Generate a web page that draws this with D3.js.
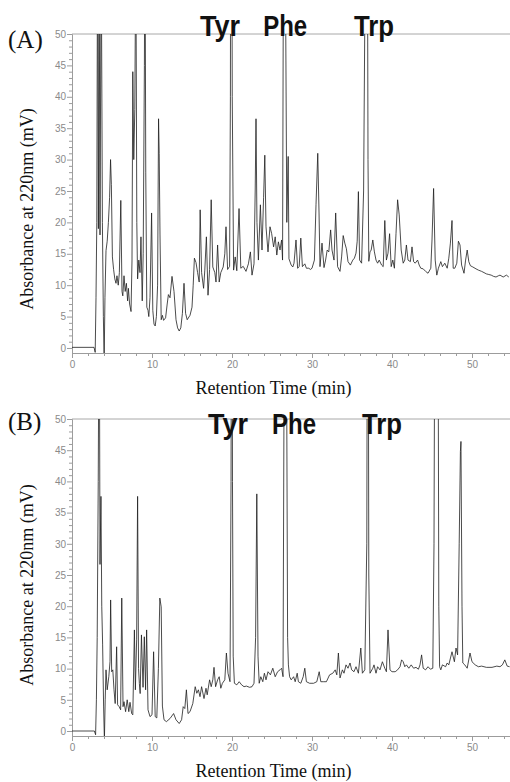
<!DOCTYPE html>
<html>
<head>
<meta charset="utf-8">
<script src="https://cdnjs.cloudflare.com/ajax/libs/d3/7.8.5/d3.min.js"></script>
<style>
  body { margin: 0; background: #fff; }
  svg { display: block; }
</style>
</head>
<body>
<svg></svg>
<script>

// chromatogram (A): [retention time (min), absorbance (mV)]
var traceA = [
  [0, 0.1], [2.75, 0.1], [2.9, -0.7], [3.0, 8], [3.1, 20], [3.2, 70], [3.3, 19], [3.4, 60],
  [3.5, 18], [3.65, 65], [3.8, 20], [3.92, 5], [4.02, -2], [4.12, 8], [4.25, 15.5], [4.4, 17],
  [4.55, 20], [4.7, 24], [4.82, 30], [4.92, 26], [5.05, 14.5], [5.2, 12.5], [5.35, 11], [5.5, 10.3],
  [5.62, 11.5], [5.78, 10], [5.92, 12], [6.1, 23.5], [6.25, 9], [6.35, 8.3], [6.5, 11.5], [6.65, 9],
  [6.8, 10.3], [6.95, 7.5], [7.05, 9.5], [7.2, 7], [7.38, 5.8], [7.5, 14], [7.6, 44], [7.72, 30],
  [7.85, 38], [7.98, 65], [8.1, 20], [8.2, 11], [8.35, 14], [8.5, 12], [8.62, 17.7], [8.78, 7.5],
  [8.9, 15], [9.05, 45], [9.12, 70], [9.22, 28], [9.35, 6.5], [9.5, 6], [9.6, 5], [9.75, 8],
  [9.95, 21.5], [10.1, 6], [10.25, 3.8], [10.4, 3.5], [10.55, 5], [10.7, 10], [10.82, 36.5], [10.9, 31],
  [11.0, 18], [11.15, 4.5], [11.3, 5.2], [11.45, 4.4], [11.7, 4.8], [11.9, 7], [12.05, 8.5], [12.25, 8],
  [12.5, 11.4], [12.75, 9], [13.0, 4.5], [13.2, 3.2], [13.4, 2.7], [13.6, 3.2], [13.8, 5.5], [14.0, 10.3],
  [14.2, 5.5], [14.4, 4.5], [14.75, 5.2], [15.0, 6.5], [15.15, 10], [15.3, 14.3], [15.5, 13.6], [15.7, 12],
  [15.9, 10.5], [16.02, 22], [16.2, 12], [16.45, 9.5], [16.6, 12.4], [16.8, 17.7], [17.0, 8.4], [17.2, 12.5],
  [17.4, 23.6], [17.6, 12.9], [17.85, 12], [18.0, 10.5], [18.2, 16.4], [18.4, 10.5], [18.6, 12], [18.9, 12.9],
  [19.1, 15], [19.25, 19.3], [19.45, 12.5], [19.7, 13], [19.8, 40], [19.87, 120], [19.95, 90], [20.03, 40],
  [20.2, 12.4], [20.4, 14.5], [20.6, 12.3], [20.88, 22.2], [21.1, 12.7], [21.4, 13], [21.75, 12.2], [22.05, 13.4],
  [22.3, 15.3], [22.5, 11.6], [22.75, 13.4], [22.9, 25], [23.0, 36.5], [23.12, 20], [23.3, 14], [23.55, 22.8],
  [23.75, 15.6], [23.95, 24], [24.1, 30.7], [24.25, 19.3], [24.5, 15.3], [24.75, 19.3], [24.96, 18.2], [25.2, 16.1],
  [25.4, 17.7], [25.6, 14.8], [25.8, 16.9], [26.0, 15.6], [26.2, 17.2], [26.32, 14], [26.42, 60], [26.55, 110],
  [26.68, 60], [26.85, 20], [27.02, 30.5], [27.12, 14.2], [27.4, 13.2], [27.6, 12.9], [27.75, 13.5], [28.0, 17.2],
  [28.2, 12.7], [28.4, 12.95], [28.6, 17.5], [28.8, 12.95], [29.1, 13.4], [29.3, 12.7], [29.6, 12.7], [29.8, 12.5],
  [30.0, 12.7], [30.3, 14], [30.5, 22.8], [30.72, 31], [30.88, 21.5], [31.0, 12.95], [31.25, 16.7], [31.5, 12.8],
  [31.7, 14], [31.9, 15.6], [32.1, 15.3], [32.33, 18.8], [32.5, 15.6], [32.75, 14], [32.96, 21.5], [33.2, 12.95],
  [33.5, 12.2], [33.7, 14.5], [33.9, 17.9], [34.1, 16.7], [34.3, 15.8], [34.5, 13.75], [34.8, 13.2], [35.1, 14],
  [35.3, 14.3], [35.5, 15.1], [35.65, 17], [35.8, 24.9], [35.95, 14], [36.2, 13.5], [36.45, 25], [36.7, 70],
  [36.85, 110], [37.0, 30], [37.1, 13.8], [37.25, 15.3], [37.4, 15.6], [37.6, 17.2], [37.8, 15.3], [38.0, 14],
  [38.2, 13.5], [38.4, 14], [38.7, 13.2], [38.9, 12.95], [39.1, 20.3], [39.3, 14], [39.5, 15.1], [39.7, 18.2],
  [39.9, 12.95], [40.1, 14], [40.3, 12.7], [40.5, 18.2], [40.7, 23.6], [40.9, 21.2], [41.15, 15.6], [41.4, 13.5],
  [41.6, 14], [41.8, 16.4], [42.0, 14], [42.3, 13.75], [42.5, 16.1], [42.7, 13.75], [42.9, 13.5], [43.2, 14],
  [43.4, 13.2], [43.6, 12.7], [43.9, 12.6], [44.2, 12.2], [44.5, 11.9], [44.85, 12.7], [45.0, 17.2], [45.2, 25.4],
  [45.4, 14], [45.6, 11.6], [45.8, 12.7], [46.1, 13.75], [46.3, 12.95], [46.6, 13.5], [46.9, 12.7], [47.1, 14.3],
  [47.3, 16.7], [47.5, 20.3], [47.65, 12.7], [47.85, 12.7], [48.1, 13.5], [48.3, 17.0], [48.5, 16.4], [48.7, 13.2],
  [49.0, 11.9], [49.2, 14], [49.4, 15.6], [49.6, 13.75], [49.8, 13.1], [50.1, 12.9], [50.5, 12.6], [50.8, 12.4],
  [51.2, 12.2], [51.5, 12.0], [51.8, 11.8], [52.1, 11.7], [52.4, 11.6], [52.7, 11.4], [53.0, 11.3], [53.3, 11.5],
  [53.5, 11.6], [53.9, 11.3], [54.3, 11.6], [54.6, 11.3]
];

// chromatogram (B)
var traceB = [
  [0, 0], [2.8, 0], [2.95, -0.6], [3.05, 5], [3.15, 15], [3.28, 40], [3.4, 75], [3.5, 26.7],
  [3.62, 37.6], [3.72, 20], [3.83, 13.8], [3.95, 4], [4.05, -1.5], [4.15, 5], [4.25, 9.8], [4.4, 6.6],
  [4.6, 8.7], [4.75, 11.1], [4.83, 21], [4.96, 9.5], [5.1, 9.8], [5.25, 6.6], [5.4, 4.4], [5.58, 13.5],
  [5.7, 4.2], [5.9, 3.9], [6.08, 3.4], [6.22, 21.3], [6.38, 3.9], [6.5, 4.7], [6.7, 3.1], [6.9, 5.0],
  [7.1, 3.1], [7.25, 4.6], [7.46, 2.8], [7.6, 2.6], [7.8, 16.2], [7.92, 6.6], [8.08, 14.6], [8.2, 37.6],
  [8.32, 10], [8.42, 7.6], [8.52, 6], [8.68, 15.4], [8.88, 7], [9.04, 15.1], [9.2, 6.6], [9.33, 16.2],
  [9.5, 3.4], [9.75, 2.3], [10.0, 2.6], [10.2, 12.7], [10.4, 2.3], [10.6, 2.1], [10.8, 10], [10.98, 21.3],
  [11.15, 19.9], [11.3, 4], [11.5, 1.8], [11.8, 1.5], [12.25, 2.0], [12.7, 2.8], [13.0, 1.8], [13.4, 1.2],
  [13.7, 1.8], [13.9, 3.9], [14.1, 3.6], [14.3, 6.6], [14.5, 2.8], [14.75, 3.1], [15.1, 4.4], [15.4, 7.1],
  [15.6, 6.05], [15.8, 6.6], [16.0, 5.5], [16.2, 7.1], [16.5, 5.2], [16.75, 6.85], [16.9, 5.8], [17.2, 8.2],
  [17.4, 7.1], [17.6, 8.2], [17.75, 10.2], [17.95, 7.1], [18.2, 8.2], [18.4, 8.7], [18.6, 6.85], [18.8, 7.65],
  [19.1, 8.2], [19.3, 12.5], [19.5, 9.26], [19.75, 7.9], [19.88, 40], [19.97, 110], [20.06, 40], [20.15, 12],
  [20.3, 7.65], [20.6, 7.4], [20.9, 7.9], [21.2, 7.4], [21.5, 7.1], [21.8, 7.2], [22.2, 7.0], [22.5, 7.1],
  [22.75, 7.65], [22.95, 15], [23.1, 38], [23.25, 12], [23.4, 7.65], [23.6, 8.7], [23.85, 7.9], [24.05, 9.26],
  [24.25, 8.2], [24.5, 9.5], [24.8, 9.0], [25.1, 10.06], [25.4, 8.7], [25.7, 9.5], [26.0, 9.8], [26.2, 10.06],
  [26.38, 8.7], [26.52, 60], [26.68, 110], [26.82, 60], [26.95, 15], [27.05, 10.6], [27.2, 8.7], [27.4, 8.2],
  [27.7, 8.7], [27.9, 7.9], [28.15, 9.26], [28.3, 7.9], [28.6, 7.65], [28.9, 8.7], [29.1, 10.06], [29.3, 7.9],
  [29.7, 7.65], [30.2, 7.65], [30.6, 7.9], [30.9, 9.5], [31.1, 7.9], [31.4, 7.9], [31.8, 7.9], [32.2, 9.0],
  [32.6, 9.26], [32.9, 9.8], [33.1, 9.0], [33.3, 12.5], [33.5, 8.5], [33.8, 9.8], [34.0, 9.26], [34.25, 10.6],
  [34.5, 10.06], [34.75, 10.9], [34.96, 9.8], [35.25, 9.5], [35.5, 10.3], [35.8, 9.26], [36.1, 13.3], [36.3, 9.26],
  [36.6, 9.8], [36.85, 30], [36.98, 110], [37.1, 25], [37.25, 9.26], [37.6, 10.06], [37.75, 10.6], [38.0, 9.26],
  [38.2, 10.3], [38.5, 9.8], [38.8, 11.1], [39.1, 10.06], [39.3, 9.5], [39.5, 16.2], [39.75, 9.8], [40.0, 9.5],
  [40.4, 9.5], [40.7, 9.8], [41.0, 10.3], [41.2, 11.4], [41.4, 11.1], [41.6, 10.3], [41.8, 10.6], [42.1, 10.06],
  [42.4, 10.6], [42.7, 10.06], [43.0, 10.2], [43.3, 9.9], [43.5, 10.6], [43.7, 12.2], [43.9, 10.06], [44.2, 9.8],
  [44.5, 10.3], [44.8, 9.9], [45.1, 10.06], [45.25, 30], [45.4, 90], [45.55, 150], [45.72, 90], [45.85, 20],
  [45.95, 10.3], [46.1, 9.8], [46.3, 10.6], [46.7, 10.3], [46.9, 10.9], [47.1, 10.6], [47.5, 12.7], [47.8, 11.1],
  [48.0, 13.3], [48.2, 12.2], [48.4, 30], [48.55, 44.8], [48.62, 46.4], [48.75, 20], [48.85, 10.9], [49.1, 10.6],
  [49.4, 10.06], [49.75, 12.5], [50.0, 11.1], [50.4, 10.6], [50.8, 10.3], [51.2, 10.4], [51.8, 10.2], [52.5, 10.2],
  [53.1, 10.4], [53.5, 10.3], [53.8, 10.6], [54.1, 11.4], [54.4, 10.4], [54.7, 10.3]
];

var peakNames = ["Tyr", "Phe", "Trp"];
var peakLabelTimesA = [16.0, 23.9, 35.25]; // where the label text starts (min)
var peakLabelTimesB = [17.0, 25.0, 36.25];
var peakLabelWidths = [40, 44, 40];

var yMajorTicks = [0, 5, 10, 15, 20, 25, 30, 35, 40, 45, 50];
var xMajorTicks = [0, 10, 20, 30, 40, 50];

var width = 510, height = 782;
var axisGray = "#9c9c9c";
var serif = '"Liberation Serif", "Times New Roman", serif';
var sans = '"Liberation Sans", Arial, sans-serif';

var svg = d3.select("svg")
            .attr("width", width)
            .attr("height", height);

var panels = [
  { name: "(A)", data: traceA, top: 34, bottom: 353, labelTimes: peakLabelTimesA,
    peakBase: 35.5, nameBase: 48, yTitleMid: 209 },
  { name: "(B)", data: traceB, top: 419, bottom: 736, labelTimes: peakLabelTimesB,
    peakBase: 434, nameBase: 430, yTitleMid: 585 }
];

var xScale = d3.scaleLinear()
               .domain([0, 54.75])
               .range([72, width]);

panels.forEach(function(p, i) {
  var yScale = d3.scaleLinear()
                 .domain([-0.8, 50])
                 .range([p.bottom, p.top]);

  var g = svg.append("g");

  // top frame line
  g.append("line")
    .attr("x1", xScale.range()[0]).attr("x2", xScale.range()[1])
    .attr("y1", p.top).attr("y2", p.top)
    .attr("stroke", "#a8a8a8")
    .attr("stroke-width", 1);

  // minor ticks first, then the major axis on top
  g.append("g")
    .attr("transform", `translate(72,0)`)
    .call(d3.axisLeft(yScale)
            .tickValues(d3.range(0, 51, 1).filter(d => d % 5 !== 0))
            .tickSize(3).tickSizeOuter(0).tickFormat(""));

  g.append("g")
    .attr("transform", `translate(72,0)`)
    .call(d3.axisLeft(yScale)
            .tickValues(yMajorTicks)
            .tickSize(5).tickSizeOuter(0).tickPadding(1));

  g.append("g")
    .attr("transform", `translate(0,${p.bottom})`)
    .call(d3.axisBottom(xScale)
            .tickValues(d3.range(2, 55, 2).filter(d => d % 10 !== 0))
            .tickSize(3).tickSizeOuter(0).tickFormat(""));

  g.append("g")
    .attr("transform", `translate(0,${p.bottom})`)
    .call(d3.axisBottom(xScale)
            .tickValues(xMajorTicks)
            .tickSize(5).tickSizeOuter(0).tickPadding(3));

  g.selectAll(".domain, .tick line")
    .attr("stroke", axisGray)
    .attr("stroke-width", 1);
  g.selectAll(".tick text")
    .attr("fill", "#8a8a8a")
    .style("font-family", sans)
    .style("font-size", "10px");

  // trace, clipped to the plot area
  var clipId = "clip" + i;
  svg.append("clipPath").attr("id", clipId)
    .append("rect")
    .attr("x", 72).attr("y", p.top)
    .attr("width", width - 72).attr("height", p.bottom - p.top);

  var line = d3.line()
               .x(d => xScale(d[0]))
               .y(d => yScale(d[1]));

  g.append("path")
    .datum(p.data)
    .attr("clip-path", `url(#${clipId})`)
    .attr("fill", "none")
    .attr("stroke", "#1e1e1e")
    .attr("stroke-width", 0.8)
    .attr("stroke-linejoin", "round")
    .attr("d", line);

  // peak names
  g.selectAll("text.peak")
    .data(peakNames)
    .enter()
      .append("text")
      .attr("class", "peak")
      .attr("x", (d, k) => xScale(p.labelTimes[k]))
      .attr("y", p.peakBase)
      .attr("textLength", (d, k) => peakLabelWidths[k])
      .attr("lengthAdjust", "spacingAndGlyphs")
      .attr("fill", "#111")
      .style("font-family", sans)
      .style("font-weight", "bold")
      .style("font-size", "30px")
      .text(d => d);

  // panel letter
  g.append("text")
    .attr("x", 8)
    .attr("y", p.nameBase)
    .attr("fill", "#111")
    .style("font-family", serif)
    .style("font-size", "25px")
    .text(p.name);

  // axis titles
  g.append("text")
    .attr("transform", `translate(32.5,${p.yTitleMid}) rotate(-90)`)
    .style("text-anchor", "middle")
    .attr("fill", "#111")
    .style("font-family", serif)
    .style("font-size", "18px")
    .text("Absorbance at 220nm (mV)");

  g.append("text")
    .attr("x", 273.5)
    .attr("y", p.bottom + 41)
    .style("text-anchor", "middle")
    .attr("fill", "#111")
    .style("font-family", serif)
    .style("font-size", "18px")
    .text("Retention Time (min)");
});

</script>
</body>
</html>
